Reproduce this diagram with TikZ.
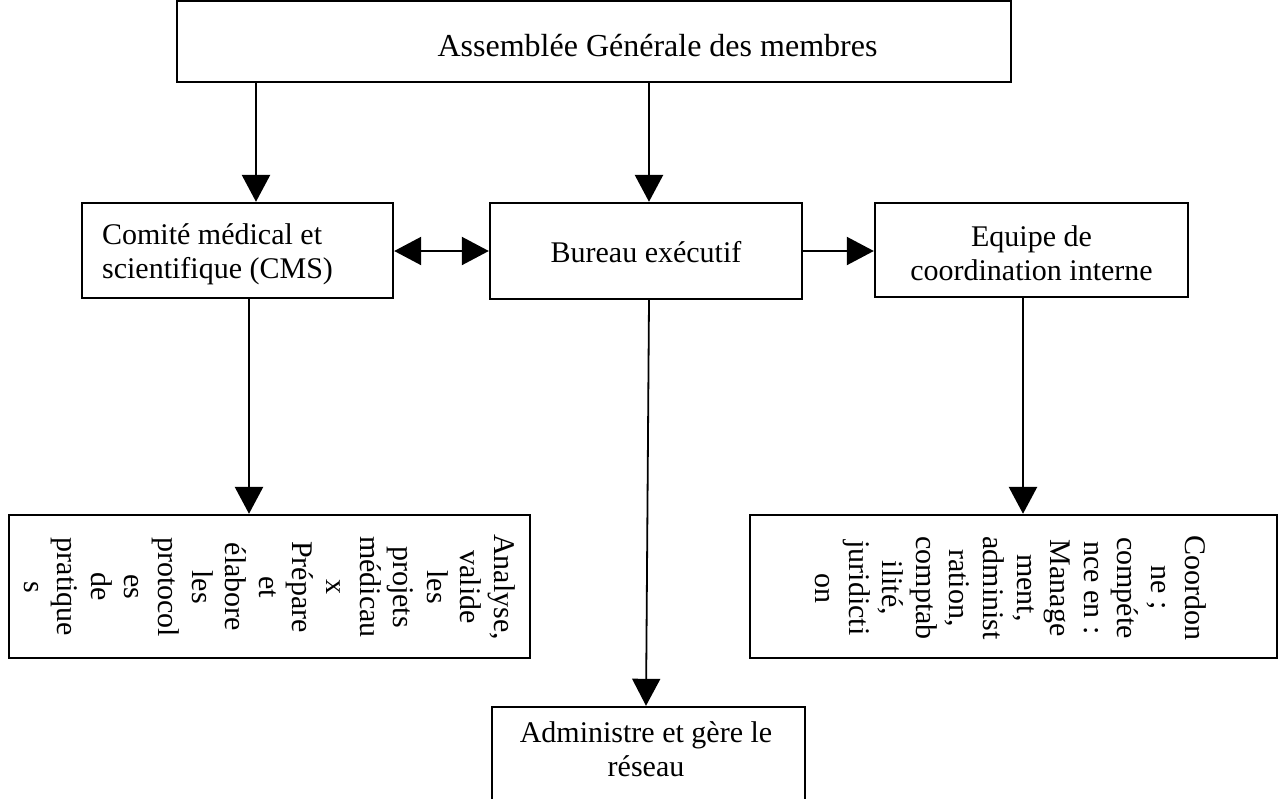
\documentclass[tikz,border=0pt]{standalone}
\usepackage{fontspec}
\setmainfont{Liberation Serif}
\usetikzlibrary{arrows.meta}
\begin{document}
\begin{tikzpicture}[x=0.5pt,y=-0.5pt,
  box/.style={draw,line width=1.2pt,rectangle,inner sep=0pt},
  txt/.style={font=\fontsize{15}{17}\selectfont,inner sep=0pt,align=center},
  vtxt/.style={font=\fontsize{15}{16.8}\selectfont,inner sep=0pt,align=center,rotate=-90},
  arr/.style={line width=1.4pt,-{Triangle[length=13.5pt,width=14pt]}},
  harr/.style={line width=1.1pt,-{Triangle[length=13.5pt,width=14pt]}},
  darr/.style={line width=1.1pt,{Triangle[length=13.5pt,width=14pt]}-{Triangle[length=13.5pt,width=14pt]}},
  tarr/.style={line width=0.9pt,-{Triangle[length=13.5pt,width=14pt]}}]
\useasboundingbox (0,0) rectangle (1285,798);
% boxes
\node[box,minimum width=417pt,minimum height=40.5pt] (ag) at (594,41.5) {};
\node[box,minimum width=155.5pt,minimum height=47.5pt] (cms) at (237.5,250.5) {};
\node[box,minimum width=156pt,minimum height=48pt] (be) at (646,251) {};
\node[box,minimum width=156.5pt,minimum height=47pt] (eci) at (1031.5,250) {};
\node[box,minimum width=260.5pt,minimum height=71.5pt] (ana) at (269.5,586.5) {};
\node[box,minimum width=263.5pt,minimum height=71.5pt] (coo) at (1013.5,586.5) {};
\node[box,minimum width=156.5pt,minimum height=61.5pt] (adm) at (648.5,768.5) {};
% texts
\node[txt,anchor=base,font=\fontsize{16}{18}\selectfont] (agt) at (657.5,56.7) {Assemblée Générale des membres};
\node[txt,anchor=west,align=left] (cmst) at (101.7,254) {Comité médical et\\scientifique (CMS)};
\node[txt,anchor=base] (bet) at (646,262.7) {Bureau exécutif};
\node[txt] (ecit) at (1031.5,253) {Equipe de\\coordination interne};
\node[txt] (admt) at (646,749.5) {Administre et gère le\\réseau};
\node[vtxt] (anat) at (269.5,587) {Analyse,\\valide\\les\\projets\\médicau\\x\\Prépare\\et\\élabore\\les\\protocol\\es\\de\\pratique\\s};
\node[vtxt] (coot) at (1010.5,588) {Coordon\\ne ;\\compéte\\nce en :\\Manage\\ment,\\administ\\ration,\\comptab\\ilité,\\juridicti\\on};
% guide coordinates
\coordinate (xa) at (256,0);
\coordinate (xb) at (649,0);
\coordinate (xc) at (249,0);
\coordinate (xd) at (646,0);
\coordinate (xe) at (1023,0);
\coordinate (ym) at (0,251);
% connectors
\draw[arr] (ag.south -| xa) -- (cms.north -| xa);
\draw[arr] (ag.south -| xb) -- (be.north -| xb);
\draw[darr] (cms.east |- ym) -- (be.west |- ym);
\draw[harr] (be.east |- ym) -- (eci.west |- ym);
\draw[arr] (cms.south -| xc) -- (ana.north -| xc);
\draw[tarr] (be.south -| xb) -- (adm.north -| xd);
\draw[arr] (eci.south -| xe) -- (coo.north -| xe);
\end{tikzpicture}
\end{document}
